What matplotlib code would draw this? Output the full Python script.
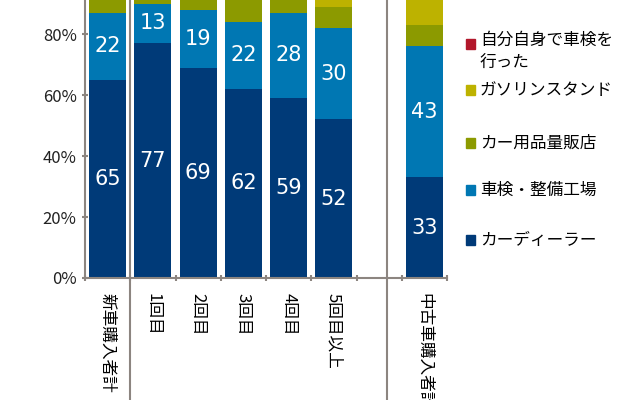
import matplotlib as mpl
mpl.use('Agg')
import matplotlib.pyplot as plt
from matplotlib.patches import Rectangle

plt.rcParams['font.family'] = ['Noto Sans CJK JP', 'DejaVu Sans']

categories = ['新車購入者計', '1回目', '2回目', '3回目', '4回目', '5回目以上', '', '中古車購入者計']
dealer = [65, 77, 69, 62, 59, 52, None, 33]
shop = [22, 13, 19, 22, 28, 30, None, 43]
carshop = [7, 5, 6, 9, 6, 7, None, 7]
gas = [4, 3, 4, 5, 5, 8, None, 12]
self_ = [2, 2, 2, 2, 2, 3, None, 5]

series = [('カーディーラー', dealer, '#003a78'),
          ('車検・整備工場', shop, '#0077b3'),
          ('カー用品量販店', carshop, '#8c9a00'),
          ('ガソリンスタンド', gas, '#bdb200'),
          ('自分自身で車検を\n行った', self_, '#b2172b')]

grey = '#8c8580'
fig = plt.figure(figsize=(6.4, 4.0), dpi=100)
ax = fig.add_axes([85 / 640, 0.305, 362 / 640, 0.7625])

for i, cat in enumerate(categories):
    if dealer[i] is None:
        continue
    bottom = 0
    for k, (name, vals, col) in enumerate(series):
        ax.bar(i + 0.5, vals[i], 0.82, bottom=bottom, color=col)
        if k < 2:
            ax.text(i + 0.5, bottom + vals[i] / 2, str(vals[i]), color='white',
                    ha='center', va='center', fontsize=15, family='DejaVu Sans')
        bottom += vals[i]

ax.set_xlim(0, 8)
ax.set_ylim(0, 100)
ax.set_xticks(range(9))
ax.set_xticklabels([])
ax.set_yticks([0, 20, 40, 60, 80])
ax.set_yticklabels(['0%', '20%', '40%', '60%', '80%'], fontsize=12)
for s in ['top', 'right']:
    ax.spines[s].set_visible(False)
for s in ['left', 'bottom']:
    ax.spines[s].set_color(grey)
    ax.spines[s].set_linewidth(1.5)
ax.tick_params(colors=grey, labelcolor='#222222', length=5, width=1.5, direction='inout')

for i, cat in enumerate(categories):
    ax.text(i + 0.5, -5, cat, rotation=-90, ha='center', va='top', fontsize=12,
            clip_on=False)
for xs in [1, 6.67]:
    ax.plot([xs, xs], [-60, 100], color=grey, lw=1.5, clip_on=False)

# legend, top to bottom
marker_y = [44, 90, 143, 190, 240]
for (name, vals, col), y in zip(series[::-1], marker_y):
    fig.patches.append(Rectangle((466 / 640, 1 - y / 400 - 0.013), 0.014, 0.026,
                                 color=col, transform=fig.transFigure))
    if '\n' in name:
        fig.text(480 / 640, 1 - 32 / 400, name, fontsize=12, va='top', ha='left',
                 linespacing=1.4)
    else:
        fig.text(480 / 640, 1 - y / 400, name, fontsize=12, va='center', ha='left')

fig.savefig('out.png', dpi=100)
